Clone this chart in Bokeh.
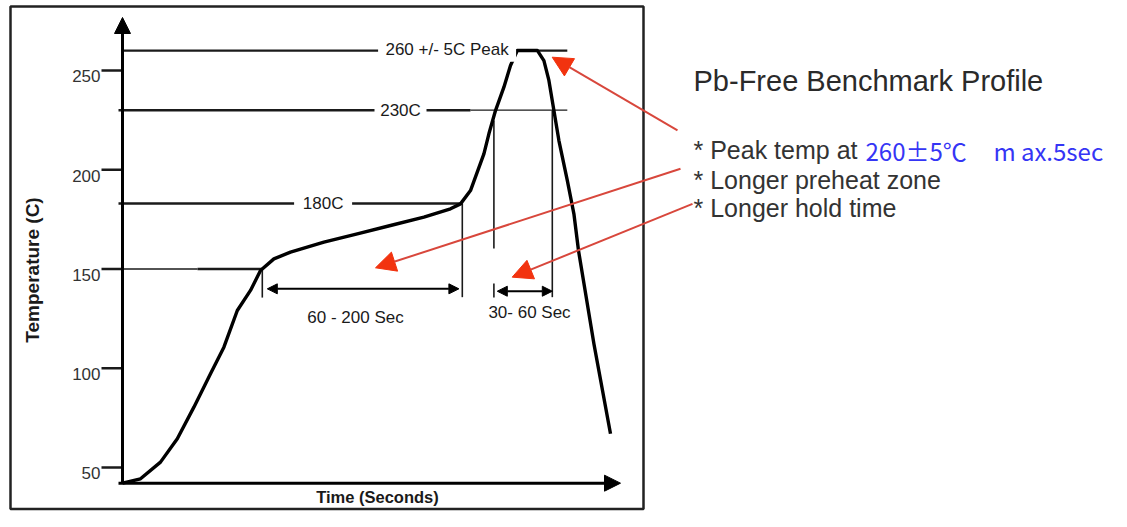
import math
from bokeh.plotting import figure
from bokeh.models import Range1d, Arrow, NormalHead
from bokeh.core.properties import value
from bokeh.embed import file_html
from bokeh.resources import INLINE

# ---- data (time in seconds, temperature in deg C) ----
time_s = [0, 9, 19, 27.4, 35.7, 44, 50.7, 57.4, 64, 69, 75.7, 84, 100.7, 117.4, 134,
          150.7, 164, 169, 174, 180.7, 183.2, 186.5, 190.7, 194, 197.4, 207.4, 210.7,
          213.2, 215.7, 218.2, 222.4, 225.7, 228, 235.7, 244]
temp_c = [42.1, 44.3, 52.7, 64.5, 80.4, 97.2, 110.6, 129.1, 139.2, 149.2, 155.1, 158.5,
          163.5, 167.7, 171.9, 176.1, 180.3, 182.8, 189.5, 208, 218.1, 229.8, 241.6,
          252.5, 260.1, 260.1, 255, 245, 229.8, 214.7, 194.6, 177.8, 159.3, 112.3, 67]

y_ticks = [50, 100, 150, 200, 250]
y_tick_labels = ["50", "100", "150", "200", "250"]

# reference levels and their labels
ref_temp = [260, 230, 183, 150]
ref_label = ["260 +/- 5C Peak", "230C", "180C"]
ref_label_t = [162.3, 139, 100.3]
# extents of the reference lines (seconds)
ref_thick_t0 = [0, -2, -2, 37.5]
ref_thick_t1 = [222.4, 174, 170, 70]
ref_thick_y = [260, 230, 183, 150]
ref_thin_t0 = [174, 0]
ref_thin_t1 = [222.4, 37.5]
ref_thin_y = [230, 150]

# zone markers (vertical lines)
zone_x = [69.9, 169.9, 185.7, 185.7, 214.9]
zone_y0 = [135.6, 135.8, 160.3, 135.6, 135.8]
zone_y1 = [150.3, 183.0, 224.8, 142.7, 229.8]

# dimension arrows
preheat_zone = (72.4, 168.2, 140.0)
hold_zone = (187.4, 214.9, 138.8)
zone_labels = ["60 - 200 Sec", "30- 60 Sec"]

title_text = "Pb-Free Benchmark Profile"
notes = ["* Peak temp at ", "* Longer preheat zone", "* Longer hold time"]
peak_spec = ["260±5℃", "m ax.5sec"]

FONT = value("Liberation Sans")
INK = "#1a1a1a"
RED_LINE = "#D8473C"
RED_HEAD = "#F2330F"

p = figure(width=1111, height=511, x_range=Range1d(-61, 494.5),
           y_range=Range1d(27.83, 285.26), output_backend="svg",
           toolbar_location=None, min_border=0,
           x_axis_location=None, y_axis_location=None)
p.grid.visible = False
p.outline_line_color = None
p.background_fill_color = "white"
p.border_fill_color = "white"

# outer frame
p.quad(left=[-56], right=[260.5], bottom=[29.1], top=[282.2],
       fill_color=None, line_color="#222222", line_width=2.5)

# reference lines
p.segment(x0=ref_thick_t0, x1=ref_thick_t1, y0=ref_thick_y, y1=ref_thick_y,
          line_color=INK, line_width=2.4)
p.segment(x0=ref_thin_t0, x1=ref_thin_t1, y0=ref_thin_y, y1=ref_thin_y,
          line_color=INK, line_width=1.3)

# zone verticals
p.segment(x0=zone_x, x1=zone_x, y0=zone_y0, y1=zone_y1, line_color=INK, line_width=1.6)

# profile curve
p.line(time_s, temp_c, line_color="black", line_width=3.4, line_join="round")

# white masks behind reference labels
p.rect(x=ref_label_t, y=[260.4, 230, 183], width=[138, 52, 58], height=[24, 20, 20],
       width_units="screen", height_units="screen", fill_color="white", line_color=None)
p.text(x=ref_label_t, y=[260.6, 230, 183], text=ref_label, text_font=FONT,
       text_font_size="17px", text_color=INK, text_align="center", text_baseline="middle")

# axes with arrow heads
p.add_layout(Arrow(x_start=0, y_start=42.1, x_end=0, y_end=276.7, line_width=3,
                   line_color="black",
                   end=NormalHead(size=16, fill_color="black", line_color="black")))
p.add_layout(Arrow(x_start=-2, y_start=42.1, x_end=249, y_end=42.1, line_width=3,
                   line_color="black",
                   end=NormalHead(size=16, fill_color="black", line_color="black")))

# y ticks and labels
p.segment(x0=[-10.5] * len(y_ticks), x1=[0] * len(y_ticks), y0=y_ticks, y1=y_ticks,
          line_color=INK, line_width=2.6)
p.text(x=[-11] * len(y_ticks), y=y_ticks, text=y_tick_labels, text_font=FONT,
       text_font_size="17px", text_color="#333333", text_align="right",
       text_baseline="middle", y_offset=6)

# axis titles
p.text(x=[-45], y=[149.5], text=["Temperature (C)"], text_font=FONT,
       text_font_size="19px", text_font_style="bold", text_color=INK,
       text_align="center", text_baseline="middle", angle=math.pi / 2)
p.text(x=[127.5], y=[35.2], text=["Time (Seconds)"], text_font=FONT,
       text_font_size="16.5px", text_font_style="bold", text_color=INK,
       text_align="center", text_baseline="middle")

# dimension arrows
for t0, t1, yy in (preheat_zone, hold_zone):
    p.add_layout(Arrow(x_start=t0, y_start=yy, x_end=t1, y_end=yy, line_width=2,
                       line_color="black",
                       start=NormalHead(size=10, fill_color="black", line_color="black"),
                       end=NormalHead(size=10, fill_color="black", line_color="black")))
p.text(x=[116.5, 203.5], y=[125.7, 128.2], text=zone_labels, text_font=FONT,
       text_font_size="17px", text_color=INK, text_align="center", text_baseline="middle")

# red callout arrows
for xs, ys, xe, ye in ((277.5, 219.8, 214.85, 256.7),
                       (279.0, 200.5, 126.5, 150.6),
                       (285.0, 182.8, 194.85, 145.9)):
    p.add_layout(Arrow(x_start=xs, y_start=ys, x_end=xe, y_end=ye, line_width=2,
                       line_color=RED_LINE,
                       end=NormalHead(size=20, fill_color=RED_HEAD, line_color=RED_HEAD)))

# right-hand text
p.text(x=[285.5], y=[244.5], text=[title_text], text_font=FONT, text_font_size="29px",
       text_color="#2a2a2a", text_align="left", text_baseline="middle")
p.text(x=[285.5, 285.5, 285.5], y=[209.7, 194.6, 180.5], text=notes, text_font=FONT,
       text_font_size="25px", text_color="#333333", text_align="left",
       text_baseline="middle")
p.text(x=[371.5, 435.5], y=[209.7, 209.7], text=peak_spec, text_font=value("Noto Sans CJK JP"),
       text_font_size="24px", text_color="#3535F5", text_align="left",
       text_baseline="middle")

open("out.html", "w").write(file_html(p, INLINE))
